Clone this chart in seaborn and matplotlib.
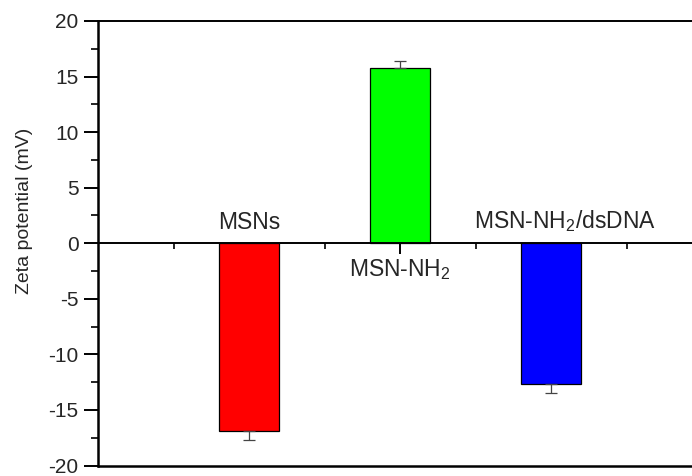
import matplotlib
matplotlib.use("Agg")
import matplotlib.pyplot as plt
from matplotlib.ticker import MultipleLocator, FixedLocator, NullFormatter
import seaborn as sns
import pandas as pd

samples = ["MSNs", "MSN-NH$_2$", "MSN-NH$_2$/dsDNA"]
zeta_mv = [-16.9, 15.8, -12.7]
zeta_err = [0.8, 0.6, 0.8]
bar_colors = ["#FF0000", "#00FF00", "#0000FF"]

sns.set_theme(style="white")
plt.rcParams["font.family"] = ["Liberation Sans", "DejaVu Sans"]
plt.rcParams["mathtext.fontset"] = "custom"
plt.rcParams["mathtext.rm"] = "Liberation Sans"
plt.rcParams["mathtext.it"] = "Liberation Sans"
plt.rcParams["axes.unicode_minus"] = False

df = pd.DataFrame({"sample": samples, "zeta": zeta_mv})

fig = plt.figure(figsize=(6.92, 4.76), dpi=100)
# axes runs past the right edge of the canvas
ax = fig.add_axes([98 / 692, 1 - 465.5 / 476, 604 / 692, 444.5 / 476])

sns.barplot(data=df, x="sample", y="zeta", hue="sample", palette=bar_colors,
            legend=False, width=0.4, errorbar=None, edgecolor="black",
            linewidth=0.9, saturation=1, ax=ax, zorder=2)

# one-sided error bars pointing away from zero
for i, (v, e) in enumerate(zip(zeta_mv, zeta_err)):
    lower = e if v < 0 else 0
    upper = e if v > 0 else 0
    ax.errorbar(i, v, yerr=[[lower], [upper]], fmt="none", ecolor="#444444",
                elinewidth=0.9, capsize=4, capthick=0.9, zorder=3)

ax.set_xlim(-1, 3)
ax.set_ylim(-20, 20)

# x axis sits at zero; a plain frame line closes the bottom at -20
ax.spines["bottom"].set_position(("data", 0))
ax.spines["right"].set_visible(False)
for s in ["left", "top", "bottom"]:
    ax.spines[s].set_color("black")
    ax.spines[s].set_linewidth(1.4)
ax.spines["left"].set_linewidth(1.8)
ax.axhline(-20, color="black", lw=1.8, clip_on=False, zorder=4)

ax.xaxis.set_major_locator(FixedLocator([0, 1, 2, 3]))
ax.xaxis.set_minor_locator(FixedLocator([-0.5, 0.5, 1.5, 2.5]))
ax.xaxis.set_major_formatter(NullFormatter())
ax.yaxis.set_major_locator(MultipleLocator(5))
ax.yaxis.set_minor_locator(MultipleLocator(2.5))

ax.tick_params(axis="x", which="major", direction="out", length=8, width=1.4,
               color="black", bottom=True, top=False)
ax.tick_params(axis="x", which="minor", direction="out", length=4, width=1.2,
               color="black", bottom=True, top=False)
ax.tick_params(axis="y", which="major", direction="out", length=10, width=1.4,
               color="black", labelsize=15, left=True, pad=4)
ax.tick_params(axis="y", which="minor", direction="out", length=5, width=1.2,
               color="black", left=True)

ax.set_xlabel("")
ax.set_ylabel("Zeta potential (mV)", fontsize=14)
ax.yaxis.set_label_coords(-0.108, 0.573)
ax.grid(False)

ax.text(0, 1.25, samples[0], ha="center", va="baseline", fontsize=16.5)
ax.text(1, -2.95, samples[1], ha="center", va="baseline", fontsize=16.5)
ax.text(2.09, 1.35, samples[2], ha="center", va="baseline", fontsize=16.5)

fig.savefig("out.png", dpi=100)
